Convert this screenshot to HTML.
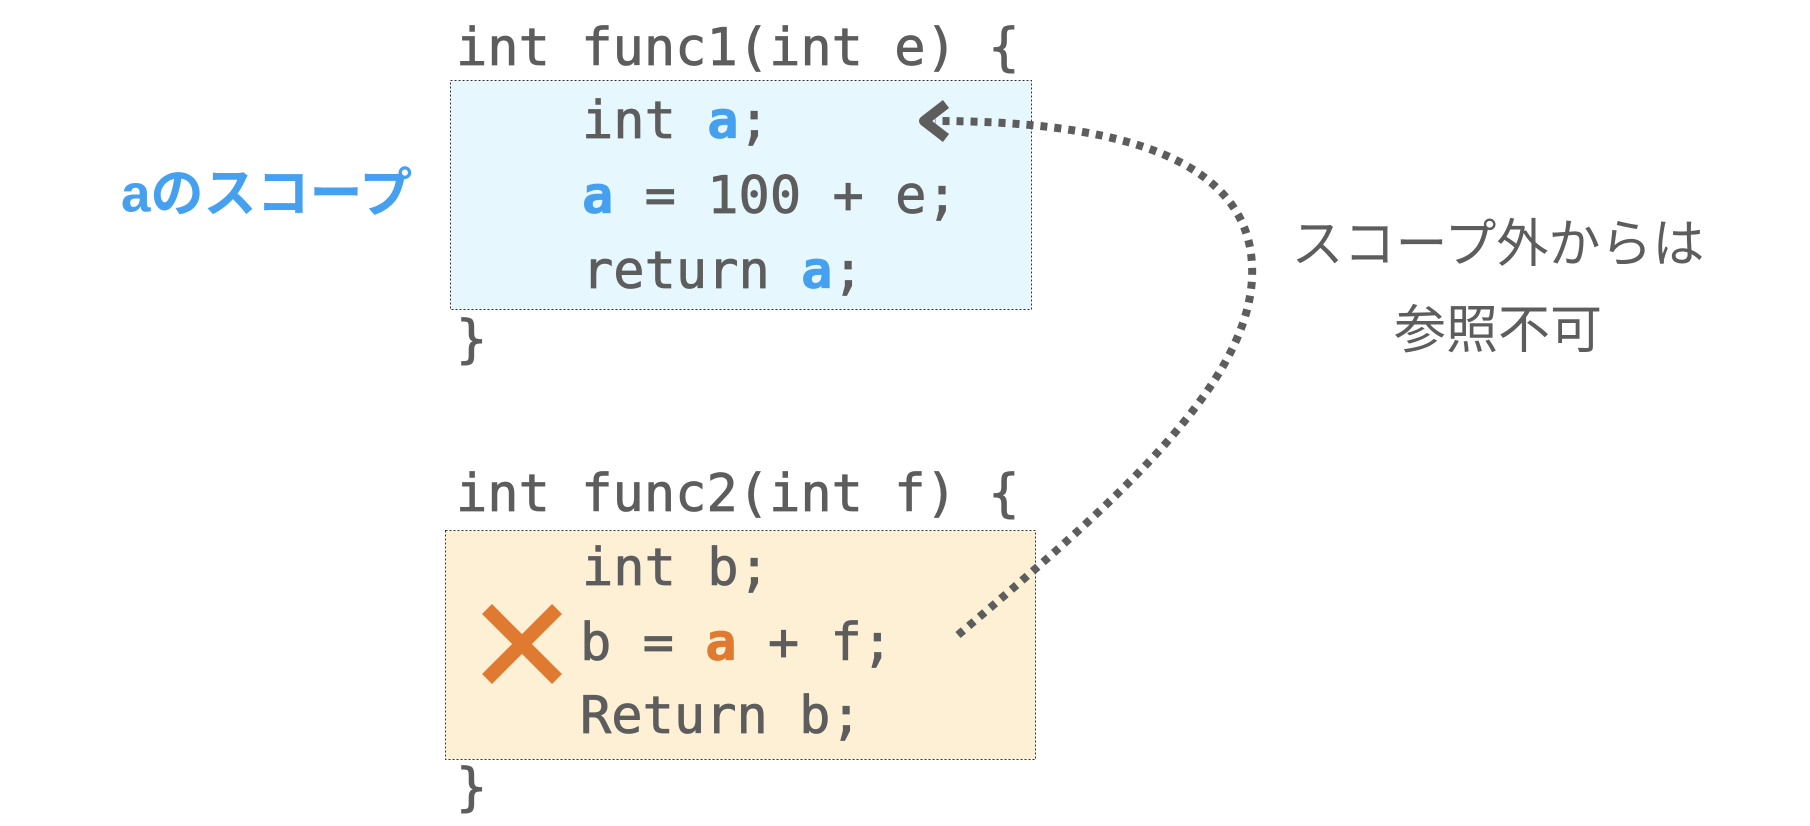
<!DOCTYPE html>
<html><head><meta charset="utf-8"><style>
html,body{margin:0;padding:0;background:#fff;}
svg{display:block}
.c{font-family:"DejaVu Sans Mono","Liberation Mono",monospace;font-size:52px;fill:#5d5d5d;stroke:#5d5d5d;stroke-width:0.8px;}
.j{font-family:"Liberation Sans","Noto Sans CJK JP",sans-serif;}
</style></head><body>
<svg width="1810" height="826" viewBox="0 0 1810 826" xmlns="http://www.w3.org/2000/svg">
<rect x="450.5" y="80.5" width="581" height="229" fill="#e6f7fd" stroke="#333" stroke-width="1" stroke-dasharray="2,2"/>
<rect x="445.5" y="530.5" width="590" height="229" fill="#fdf0d4" stroke="#333" stroke-width="1" stroke-dasharray="2,2"/>
<g class="c" dominant-baseline="central">
<text x="456" y="48">int func1(int e) {</text>
<text x="582" y="121">int <tspan fill="#45a1f0" stroke="#45a1f0" font-weight="bold">a</tspan>;</text>
<text x="582" y="196"><tspan fill="#45a1f0" stroke="#45a1f0" font-weight="bold">a</tspan> = 100 + e;</text>
<text x="582" y="271">return <tspan fill="#45a1f0" stroke="#45a1f0" font-weight="bold">a</tspan>;</text>
<text x="456" y="340">}</text>
<text x="456" y="494">int func2(int f) {</text>
<text x="582" y="568">int b;</text>
<text x="580" y="643">b = <tspan fill="#e07a30" stroke="#e07a30" font-weight="bold">a</tspan> + f;</text>
<text x="580" y="716">Return b;</text>
<text x="456" y="788">}</text>
</g>
<g stroke="#e07a30" stroke-width="14">
<line x1="487" y1="609" x2="557" y2="679"/>
<line x1="557" y1="609" x2="487" y2="679"/>
</g>
<text class="j" x="121" y="194" dominant-baseline="central" font-size="53" font-weight="bold" fill="#45a1f0">aのスコープ</text>
<text class="j" x="1498" y="245" dominant-baseline="central" text-anchor="middle" font-size="52" fill="#5d5d5d">スコープ外からは</text>
<text class="j" x="1498" y="331" dominant-baseline="central" text-anchor="middle" font-size="52" fill="#5d5d5d">参照不可</text>
<path d="M958,635 C1108,508 1258,381 1252,265 C1247,150 1096,121 935,121" fill="none" stroke="#5d5d5d" stroke-width="8" stroke-dasharray="7,7"/>
<polyline points="946,104 924,121 946,138" fill="none" stroke="#5d5d5d" stroke-width="10" stroke-linejoin="round"/>
</svg>
</body></html>
